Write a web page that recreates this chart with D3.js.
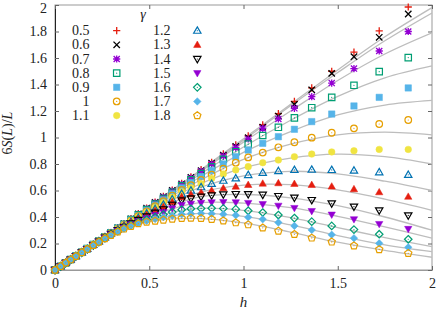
<!DOCTYPE html>
<html>
<head>
<meta charset="utf-8">
<script src="https://cdn.jsdelivr.net/npm/d3@7"></script>
<style>
  body { margin: 0; background: #fff; }
  svg text { font-family: "Liberation Serif", "DejaVu Serif", serif; fill: #222; }
</style>
</head>
<body>
<div id="chart"></div>
<script>
const W = 436
const H = 310

const gammas = ['0.5', '0.6', '0.7', '0.8', '0.9', '1', '1.1', '1.2', '1.3', '1.4', '1.5', '1.6', '1.7', '1.8']
const xTicks = [0, 0.5, 1, 1.5, 2]
const yTicks = [0, 0.2, 0.4, 0.6, 0.8, 1, 1.2, 1.4, 1.6, 1.8, 2]

// h values of the measured points
const hVals = [0, 0.030, 0.057, 0.083, 0.111, 0.142, 0.171, 0.203, 0.233, 0.265, 0.297, 0.333, 0.366, 0.403,
  0.442, 0.486, 0.531, 0.575, 0.622, 0.672, 0.721, 0.775, 0.831, 0.893, 0.959, 1.025, 1.102, 1.185,
  1.270, 1.362, 1.468, 1.586, 1.720, 1.874]

// 6S(L)/L, one list per gamma
const s05 = [0, .028, .054, .079, .106, .135, .162, .193, .221, .252, .283, .318, .350, .387, .425, .468, .513, .556, .603,
  .654, .703, .757, .813, .876, .945, 1.012, 1.095, 1.180, 1.272, 1.375, 1.500, 1.645, 1.805, 1.985]
const s06 = [0, .028, .054, .079, .106, .135, .162, .193, .221, .252, .283, .317, .349, .386, .423, .466, .510, .553, .600,
  .650, .698, .750, .806, .866, .932, .998, 1.078, 1.162, 1.250, 1.360, 1.484, 1.610, 1.756, 1.932]
const s07 = [0, .028, .054, .079, .106, .135, .162, .192, .220, .251, .282, .316, .347, .383, .420, .462, .505, .548, .595,
  .645, .693, .745, .800, .860, .925, .989, 1.069, 1.140, 1.220, 1.308, 1.411, 1.520, 1.653, 1.800]
const s08 = [0, .028, .054, .079, .106, .134, .161, .192, .219, .251, .281, .314, .345, .380, .416, .456, .498, .540, .587,
  .635, .680, .728, .778, .835, .893, .950, 1.015, 1.077, 1.148, 1.225, 1.303, 1.394, 1.497, 1.603]
const s09 = [0, .028, .054, .079, .105, .134, .161, .191, .219, .250, .280, .313, .343, .377, .411, .450, .490, .530, .575,
  .620, .660, .705, .750, .800, .855, .905, .956, 1.006, 1.062, 1.120, 1.177, 1.238, 1.303, 1.374]
const s10 = [0, .028, .054, .079, .105, .134, .160, .190, .218, .249, .279, .311, .340, .373, .406, .443, .481, .519, .562,
  .605, .640, .680, .720, .765, .810, .850, .886, .926, .964, .999, 1.036, 1.069, 1.102, 1.132]
const s11 = [0, .028, .054, .078, .105, .133, .160, .190, .217, .248, .277, .309, .337, .369, .400, .435, .471, .507, .548,
  .590, .620, .650, .690, .725, .755, .780, .810, .830, .855, .875, .891, .900, .910, .910]
const s12 = [0, .028, .054, .078, .105, .133, .159, .189, .216, .247, .276, .306, .334, .364, .394, .427, .460, .493, .533,
  .575, .600, .625, .650, .674, .692, .717, .734, .747, .755, .757, .755, .750, .738, .718]
const s13 = [0, .028, .054, .078, .105, .133, .159, .189, .215, .246, .274, .303, .330, .358, .386, .416, .446, .476, .513,
  .550, .570, .585, .600, .617, .629, .642, .652, .655, .650, .642, .630, .610, .587, .553]
const s14 = [0, .028, .054, .078, .104, .133, .158, .188, .214, .244, .272, .300, .326, .352, .378, .405, .432, .458, .492,
  .525, .540, .553, .563, .571, .573, .572, .568, .558, .546, .528, .503, .478, .450, .412]
const s15 = [0, .028, .054, .078, .104, .132, .158, .188, .213, .243, .270, .297, .321, .345, .369, .393, .416, .438, .465,
  .490, .500, .507, .511, .512, .511, .506, .497, .485, .468, .445, .418, .383, .347, .310]
const s16 = [0, .028, .054, .078, .104, .132, .158, .187, .213, .241, .267, .294, .317, .339, .361, .381, .400, .418, .437,
  .455, .462, .465, .466, .465, .459, .447, .434, .415, .392, .365, .333, .305, .270, .232]
const s17 = [0, .028, .054, .078, .104, .132, .157, .187, .212, .239, .265, .291, .314, .334, .355, .371, .385, .398, .410,
  .420, .425, .427, .425, .420, .413, .398, .383, .358, .333, .302, .266, .240, .201, .171]
const s18 = [0, .028, .054, .078, .104, .132, .157, .186, .211, .237, .262, .288, .310, .330, .350, .362, .370, .377, .385,
  .390, .392, .390, .383, .372, .357, .342, .318, .294, .269, .242, .212, .183, .155, .126]

// grey theory curves, sampled at hCurve
const hCurve = [0, 0.25, 0.5, 0.75, 1, 1.25, 1.5, 1.75, 2]
const c05 = [0, .236, .482, .732, .990, 1.250, 1.510, 1.760, 1.980]
const c06 = [0, .236, .480, .727, .980, 1.240, 1.490, 1.730, 1.940]
const c07 = [0, .235, .476, .720, .965, 1.200, 1.430, 1.630, 1.790]
const c08 = [0, .235, .470, .705, .928, 1.130, 1.310, 1.450, 1.540]
const c09 = [0, .234, .463, .685, .888, 1.045, 1.170, 1.245, 1.280]
const c10 = [0, .234, .456, .662, .835, .950, 1.020, 1.040, 1.020]
const c11 = [0, .233, .448, .636, .770, .845, .875, .855, .800]
const c12 = [0, .232, .438, .612, .710, .745, .725, .670, .600]
const c13 = [0, .231, .427, .578, .640, .645, .605, .535, .450]
const c14 = [0, .230, .414, .547, .570, .545, .485, .400, .300]
const c15 = [0, .229, .400, .504, .505, .470, .405, .325, .240]
const c16 = [0, .227, .386, .464, .450, .395, .320, .245, .176]
const c17 = [0, .226, .375, .426, .405, .340, .260, .190, .138]
const c18 = [0, .225, .365, .390, .355, .285, .210, .148, .096]

const points = [s05, s06, s07, s08, s09, s10, s11, s12, s13, s14, s15, s16, s17, s18]
const curves = [c05, c06, c07, c08, c09, c10, c11, c12, c13, c14, c15, c16, c17, c18]

// gnuplot-like point types and colours
const markers = [
  { type: 'plus', color: '#e51e10' },
  { type: 'cross', color: '#000000' },
  { type: 'star', color: '#9400d3' },
  { type: 'square', color: '#009e73', open: true },
  { type: 'square', color: '#56b4e9' },
  { type: 'circle', color: '#e69f00', open: true },
  { type: 'circle', color: '#f0e442' },
  { type: 'triUp', color: '#0072b2', open: true },
  { type: 'triUp', color: '#e51e10' },
  { type: 'triDown', color: '#000000', open: true },
  { type: 'triDown', color: '#9400d3' },
  { type: 'diamond', color: '#009e73', open: true },
  { type: 'diamond', color: '#56b4e9' },
  { type: 'pentagon', color: '#e69f00', open: true }
]

const x = d3.scaleLinear().domain([0, 2]).range([55, 432])
const y = d3.scaleLinear().domain([0, 2]).range([270, 5])

const svg = d3.select('#chart').append('svg')
  .attr('width', W)
  .attr('height', H)

// frame
svg.append('rect')
  .attr('x', x(0)).attr('y', y(2))
  .attr('width', x(2) - x(0)).attr('height', y(0) - y(2))
  .attr('fill', 'none').attr('stroke', '#999').attr('stroke-width', 1)

const xAxis = d3.axisBottom(x).tickValues(xTicks).tickSize(-4).tickPadding(8)
  .tickFormat(d3.format('~g'))
const yAxis = d3.axisLeft(y).tickValues(yTicks).tickSize(-4).tickPadding(8)
  .tickFormat(d3.format('~g'))

const $x = svg.append('g').attr('transform', `translate(0,${y(0)})`).call(xAxis)
const $y = svg.append('g').attr('transform', `translate(${x(0)},0)`).call(yAxis)
$x.select('.domain').attr('stroke', '#999')
$y.select('.domain').attr('stroke', '#222')
$x.selectAll('.tick line').attr('stroke', '#666')
$y.selectAll('.tick line').attr('stroke', '#666')
svg.selectAll('.tick text').attr('font-size', 14).attr('fill', '#222')
// keep the top label inside the picture
$y.selectAll('.tick text').filter(d => d === 2).attr('dy', '0.55em')

// mirrored ticks on top and right
svg.append('g').attr('transform', `translate(0,${y(2)})`)
  .call(d3.axisTop(x).tickValues(xTicks).tickSize(-4).tickFormat(''))
  .call(g => g.select('.domain').remove())
  .selectAll('line').attr('stroke', '#666')
svg.append('g').attr('transform', `translate(${x(2)},0)`)
  .call(d3.axisRight(y).tickValues(yTicks).tickSize(-4).tickFormat(''))
  .call(g => g.select('.domain').remove())
  .selectAll('line').attr('stroke', '#666')

// curves
const line = d3.line()
  .x((d, i) => x(hCurve[i]))
  .y(d => y(d))
  .curve(d3.curveCatmullRom.alpha(0.5))

const plot = svg.append('g')
plot.append('defs').append('clipPath').attr('id', 'clip')
  .append('rect').attr('x', x(0)).attr('y', y(2)).attr('width', x(2) - x(0)).attr('height', y(0) - y(2))

plot.append('g').attr('clip-path', 'url(#clip)')
  .selectAll('path').data(curves).join('path')
  .attr('d', line)
  .attr('fill', 'none')
  .attr('stroke', '#bdbdbd')
  .attr('stroke-width', 1.3)

function shapePath (type, s) {
  if (type === 'plus') return `M${-s},0H${s}M0,${-s}V${s}`
  if (type === 'cross') return `M${-s},${-s}L${s},${s}M${-s},${s}L${s},${-s}`
  if (type === 'star') {
    const t = s * 0.85
    return `M${-s},0H${s}M0,${-s}V${s}M${-t},${-t}L${t},${t}M${-t},${t}L${t},${-t}`
  }
  if (type === 'square') return `M${-s},${-s}H${s}V${s}H${-s}Z`
  if (type === 'circle') return `M${s},0A${s},${s} 0 1,1 ${-s},0A${s},${s} 0 1,1 ${s},0Z`
  if (type === 'triUp') return `M0,${-s * 1.2}L${s * 1.15},${s * 0.8}L${-s * 1.15},${s * 0.8}Z`
  if (type === 'triDown') return `M0,${s * 1.2}L${s * 1.15},${-s * 0.8}L${-s * 1.15},${-s * 0.8}Z`
  if (type === 'diamond') return `M0,${-s * 1.3}L${s * 1.3},0L0,${s * 1.3}L${-s * 1.3},0Z`
  if (type === 'pentagon') {
    const r = s * 1.15
    const pts = d3.range(5).map(k => {
      const a = -Math.PI / 2 + k * 2 * Math.PI / 5
      return [r * Math.cos(a), r * Math.sin(a)]
    })
    return 'M' + pts.map(p => p.join(',')).join('L') + 'Z'
  }
  return ''
}

const lineTypes = ['plus', 'cross', 'star']

function drawMarker (g, m) {
  const sizes = { plus: 3.6, cross: 3.2, star: 3.6, square: 3.2, circle: 3.3, triUp: 3.2, triDown: 3.2, diamond: 2.9, pentagon: 3.3 }
  const s = sizes[m.type]
  const p = g.append('path').attr('d', shapePath(m.type, s))
  if (lineTypes.includes(m.type)) {
    p.attr('fill', 'none').attr('stroke', m.color).attr('stroke-width', 1.3)
  } else if (m.open) {
    p.attr('fill', 'none').attr('stroke', m.color).attr('stroke-width', 1.2)
    g.append('circle').attr('r', 0.6).attr('fill', m.color)
  } else {
    p.attr('fill', m.color).attr('stroke', m.color).attr('stroke-width', 0.5)
  }
}

// points
points.forEach((vals, si) => {
  const m = markers[si]
  const g = plot.append('g')
  g.selectAll('g').data(vals).join('g')
    .attr('transform', (d, i) => `translate(${x(hVals[i])},${y(d)})`)
    .each(function () { drawMarker(d3.select(this), m) })
})

// legend
const legend = svg.append('g')
legend.append('text')
  .attr('x', 143).attr('y', 19)
  .attr('text-anchor', 'middle')
  .attr('font-size', 14).attr('font-style', 'italic')
  .text('γ')

gammas.forEach((gm, i) => {
  const col = Math.floor(i / 7)
  const row = i % 7
  const cy = 30.7 + row * 14.15
  legend.append('text')
    .attr('x', col === 0 ? 89.5 : 170.5)
    .attr('y', cy + 4.6)
    .attr('text-anchor', 'end')
    .attr('font-size', 14)
    .text(gm)
  const g = legend.append('g').attr('transform', `translate(${col === 0 ? 116.7 : 197.3},${cy})`)
  drawMarker(g, markers[i])
})

// axis titles
svg.append('text')
  .attr('x', x(1)).attr('y', 307)
  .attr('text-anchor', 'middle')
  .attr('font-size', 15).attr('font-style', 'italic')
  .text('h')

const yl = svg.append('text')
  .attr('transform', 'translate(12,133) rotate(-90)')
  .attr('text-anchor', 'middle')
  .attr('font-size', 14)
yl.append('tspan').text('6')
yl.append('tspan').attr('font-style', 'italic').text('S')
yl.append('tspan').text('(')
yl.append('tspan').attr('font-style', 'italic').text('L')
yl.append('tspan').text(')/')
yl.append('tspan').attr('font-style', 'italic').text('L')
</script>
</body>
</html>
